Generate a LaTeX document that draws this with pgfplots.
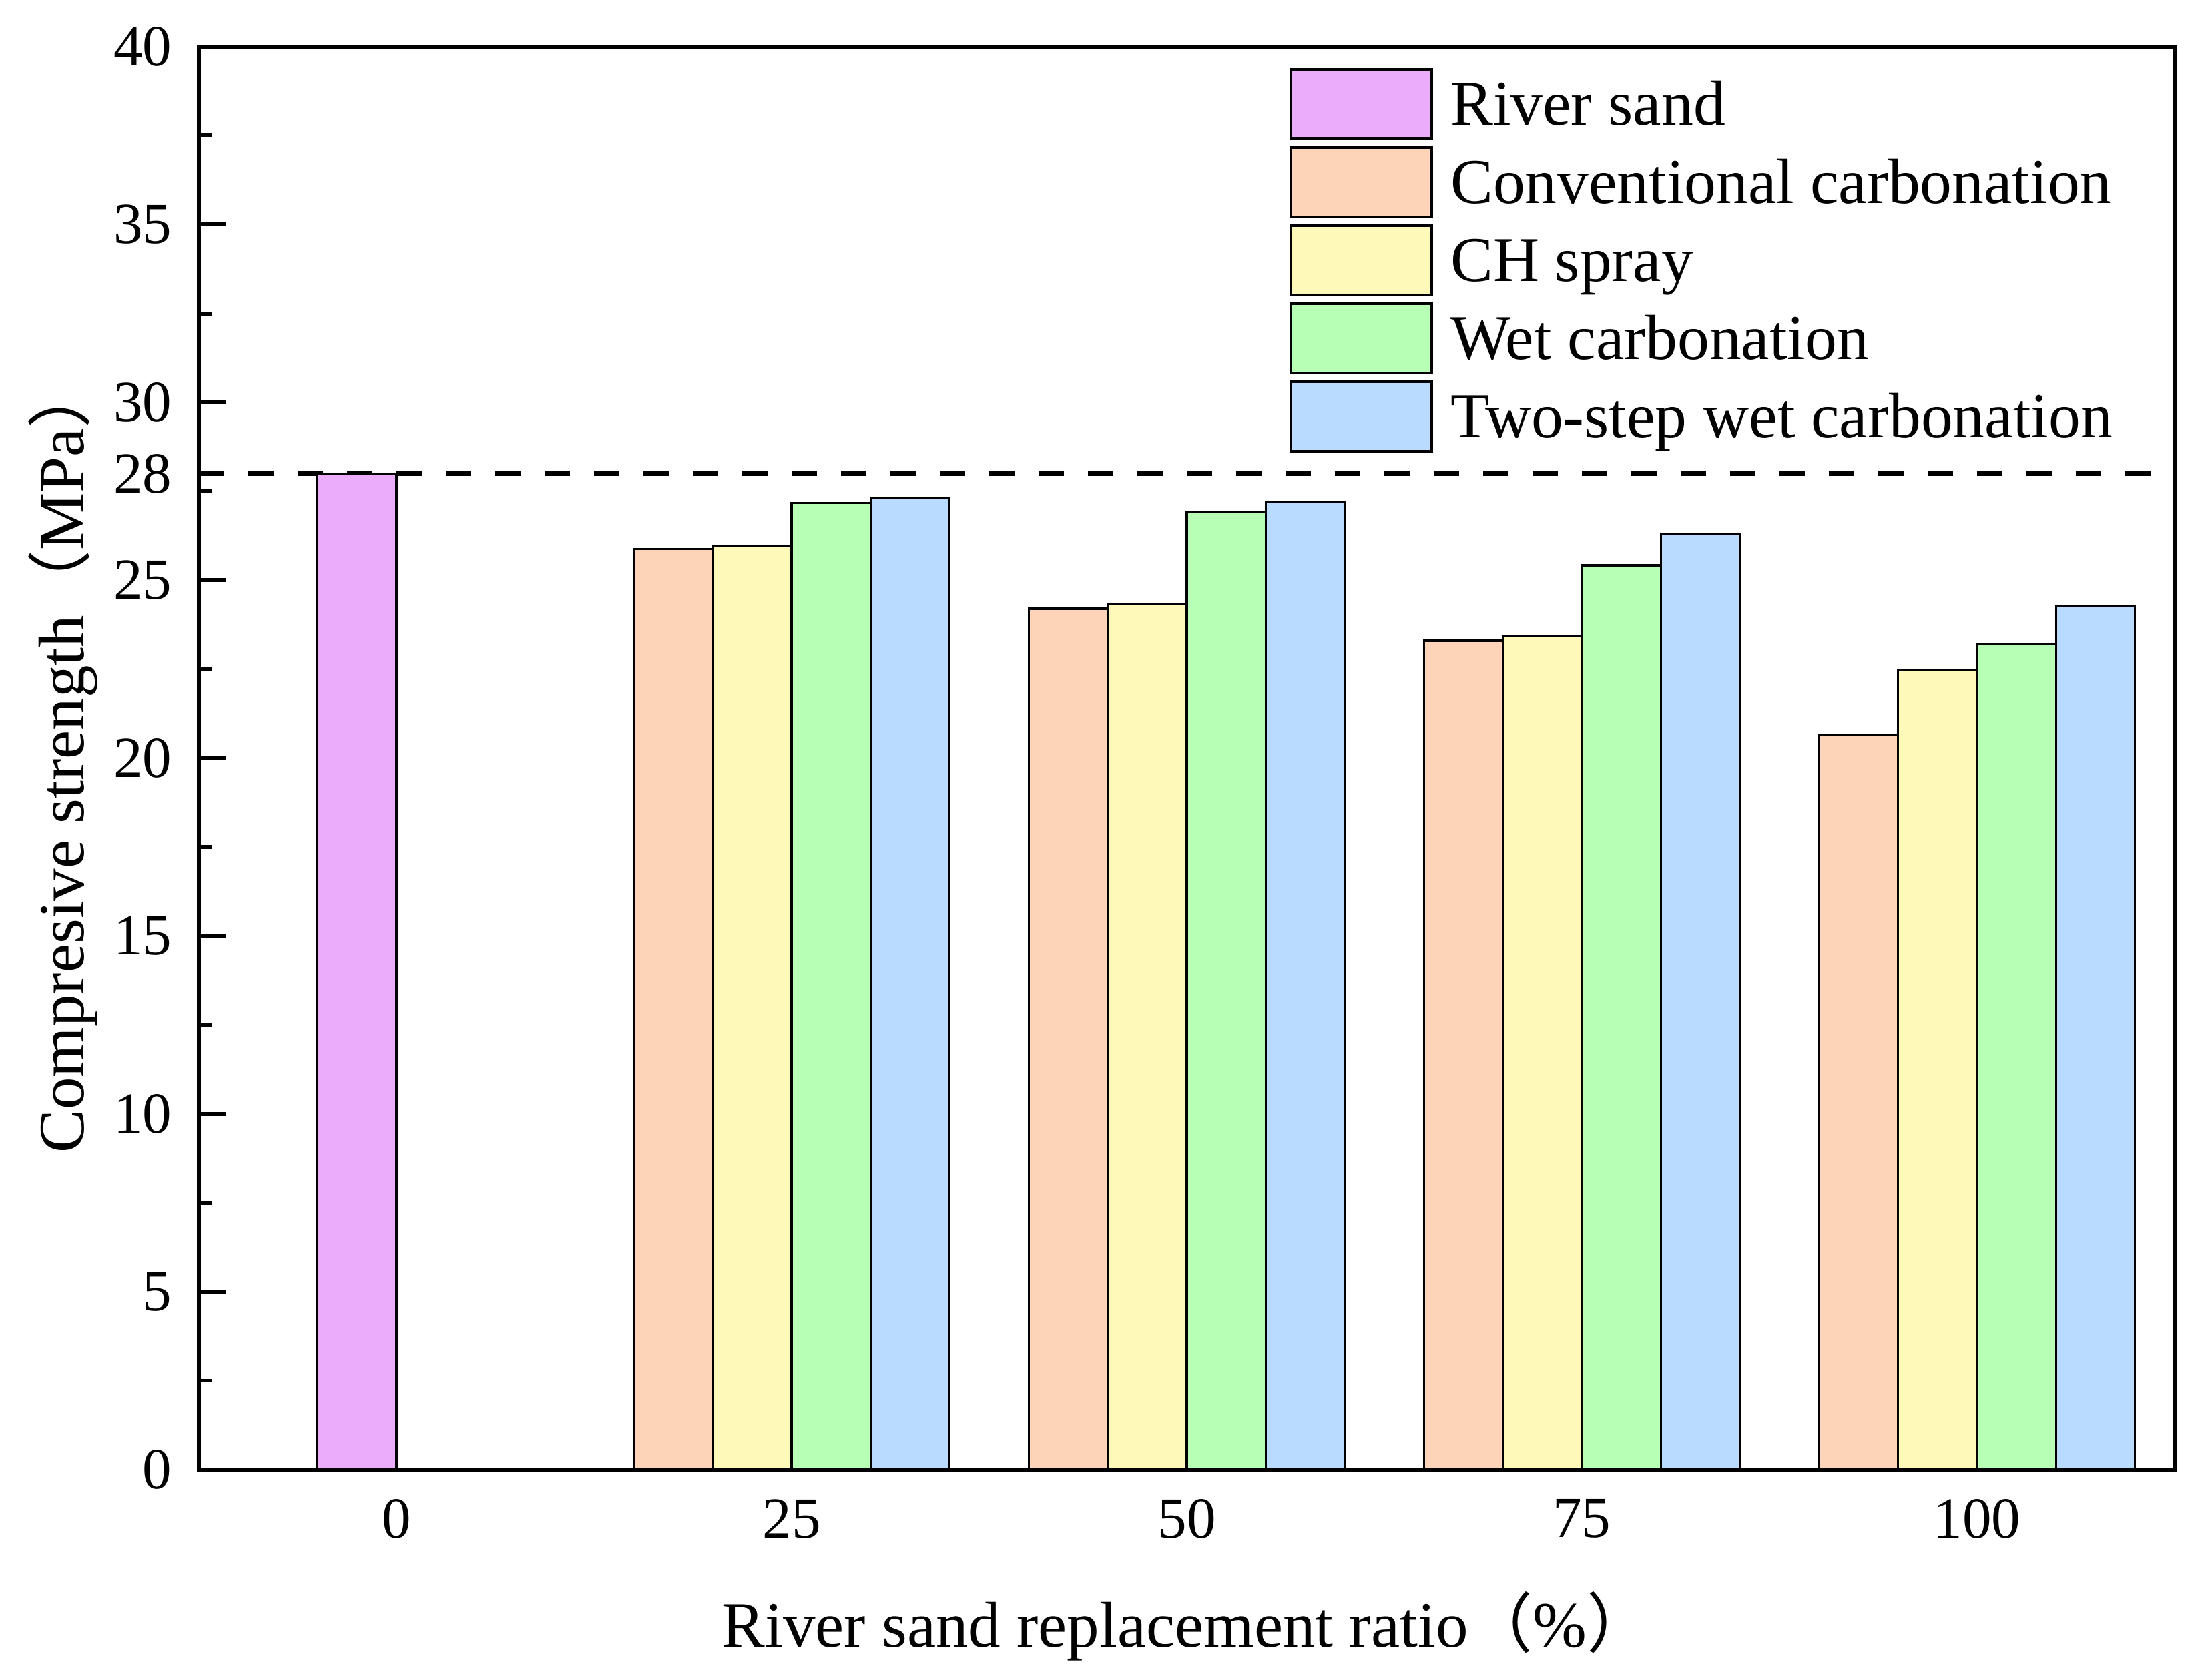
\documentclass[border=0pt]{standalone}
\usepackage{fontspec}
\setmainfont{Liberation Serif}
\newfontfamily\cjk{Noto Sans CJK SC}
\usepackage{pgfplots}
\pgfplotsset{compat=1.18}
\definecolor{cRiver}{RGB}{236,172,252}
\definecolor{cConv}{RGB}{254,212,185}
\definecolor{cCH}{RGB}{255,249,185}
\definecolor{cWet}{RGB}{182,255,180}
\definecolor{cTwo}{RGB}{184,219,255}
\pgfplotsset{
  mybar/.style={ybar, bar width=0.2, bar shift=0pt, draw=black, line width=0.45pt,
    legend image code/.code={\draw[##1, line width=0.55pt] (0cm,-0.105cm) rectangle (1.055cm,0.415cm);}},
}
\begin{document}
\begin{tikzpicture}
\begin{axis}[
  scale only axis,
  width=14.8cm, height=10.66cm,
  clip=false,
  xmin=-0.5, xmax=4.5,
  ymin=0, ymax=40,
  xtick={0,1,2,3,4},
  xticklabels={0,25,50,75,100},
  ytick={0,5,...,40},
  minor y tick num=1,
  extra y ticks={28},
  extra y tick labels={28},
  extra y tick style={major tick length=0pt},
  ytick pos=left,
  xtick pos=bottom,
  tick align=inside,
  x tick style={draw=none},
  major tick length=0.2cm,
  minor tick length=0.095cm,
  tick style={black, line width=0.82pt},
  axis line style={line width=0.82pt},
  /pgf/number format/assume math mode=true,
  tick label style={font=\fontsize{12.4}{14}\selectfont},
  yticklabel style={xshift=-0.08cm},
  xticklabel style={yshift=-0.1cm},
  xlabel={River sand replacement ratio{\cjk （}\%{\cjk ）}},
  ylabel={Compresive strength{\cjk （}MPa{\cjk ）}},
  label style={font=\fontsize{13.8}{16}\selectfont},
  xlabel style={at={(axis description cs:0.5,-0.11)}, anchor=center},
  ylabel style={at={(axis description cs:-0.0689,0.5)}, anchor=center, rotate=0},
  legend style={at={(axis description cs:0.5517,0.9855)}, anchor=north west,
    draw=none, fill=none, inner sep=0pt, row sep=0.0456cm, column sep=0.13cm,
    font=\fontsize{13.6}{15}\selectfont, nodes={inner sep=0pt, anchor=base west}},
  legend cell align=left,
]
\addplot[black, line width=1pt, dash pattern=on 0.19cm off 0.18cm, forget plot] coordinates {(-0.5,28) (4.5,28)};
\addplot[mybar, fill=cRiver] coordinates {(-0.1,28)};
\addplot[mybar, fill=cConv] coordinates {(0.7,25.88) (1.7,24.20) (2.7,23.30) (3.7,20.66)};
\addplot[mybar, fill=cCH] coordinates {(0.9,25.95) (1.9,24.33) (2.9,23.42) (3.9,22.49)};
\addplot[mybar, fill=cWet] coordinates {(1.1,27.17) (2.1,26.91) (3.1,25.42) (4.1,23.19)};
\addplot[mybar, fill=cTwo] coordinates {(1.3,27.32) (2.3,27.21) (3.3,26.30) (4.3,24.29)};
\legend{River sand, Conventional carbonation, CH spray, Wet carbonation, Two-step wet carbonation}
\path (axis description cs:-0.1007,-0.1477) (axis description cs:1.0169,1.0328);
\end{axis}
\end{tikzpicture}
\end{document}
